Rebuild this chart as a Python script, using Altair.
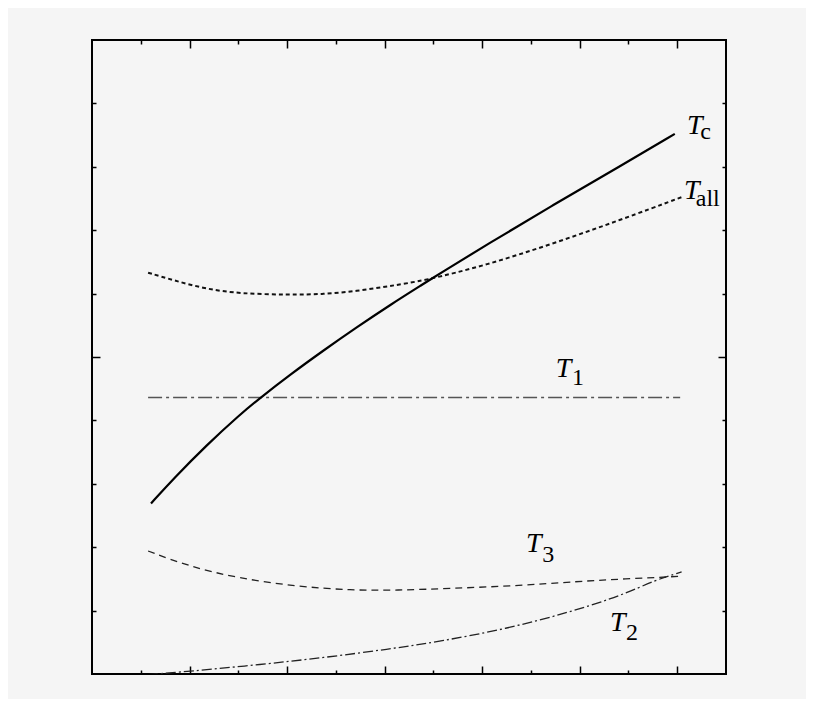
import altair as alt
import pandas as pd

# ---- data ----
tc_x = [1.21, 1.67, 2.35, 3.03, 3.44, 4.06, 4.74, 5.43, 6.11, 6.79, 7.14, 8.09, 9.46, 10.83, 11.95]
tc_y = [2.69, 3.08, 3.61, 4.09, 4.35, 4.72, 5.10, 5.47, 5.82, 6.15, 6.32, 6.77, 7.40, 8.01, 8.52]

tall_x = [1.15, 1.67, 2.35, 3.03, 4.06, 4.74, 5.43, 6.11, 6.79, 8.09, 9.46, 10.83, 12.12]
tall_y = [6.33, 6.21, 6.07, 6.00, 5.98, 5.99, 6.04, 6.12, 6.20, 6.45, 6.79, 7.16, 7.53]

t1_x = [1.15, 12.06]
t1_y = [4.36, 4.36]

t3_x = [1.15, 1.98, 3.00, 4.21, 5.32, 6.25, 7.37, 8.67, 9.97, 10.90, 12.06]
t3_y = [1.94, 1.70, 1.51, 1.38, 1.32, 1.32, 1.35, 1.39, 1.46, 1.50, 1.54]

t2_x = [1.15, 1.98, 3.47, 4.77, 6.07, 7.18, 8.48, 9.78, 10.90, 11.54, 12.09]
t2_y = [-0.01, 0.04, 0.15, 0.26, 0.39, 0.52, 0.71, 0.97, 1.25, 1.48, 1.61]

label_main = ["T", "T", "T", "T", "T"]
label_sub = ["c", "all", "1", "3", "2"]
label_x = [12.20, 12.14, 9.51, 8.90, 10.62]
label_y = [8.52, 7.50, 4.69, 1.93, 0.68]
sub_x = [12.47, 12.38, 9.84, 9.23, 10.95]
sub_y = [8.44, 7.38, 4.56, 1.77, 0.54]

x_ticks = list(range(1, 13))
y_ticks = list(range(1, 10))
X_DOMAIN = [0, 13]
Y_DOMAIN = [0, 10]

SERIF = "Liberation Serif, Times New Roman, serif"

# ---- scales / axes ----
xs = alt.Scale(domain=X_DOMAIN, nice=False, zero=False)
ys = alt.Scale(domain=Y_DOMAIN, nice=False, zero=False)


def axis(orient, values, major_test):
    return alt.Axis(
        orient=orient, values=values, labels=False, domain=False, grid=False, title="",
        tickSize={"expr": "-8"}, tickWidth=1.5, tickColor="black",
        tickDash={"condition": {"test": major_test, "value": [10, 10]}, "value": [4, 20]},
    )


def line(xv, yv, dash, width, color, interp="basis", axes=False):
    df = pd.DataFrame({"x": xv, "y": yv})
    if axes:
        xe = alt.X("x:Q", scale=xs, axis=axis("bottom", x_ticks, "datum.value % 2 == 0"))
        ye = alt.Y("y:Q", scale=ys, axis=axis("left", y_ticks, "datum.value == 5"))
    else:
        xe = alt.X("x:Q", scale=xs, axis=None)
        ye = alt.Y("y:Q", scale=ys, axis=None)
    kw = dict(strokeWidth=width, color=color, clip=True, interpolate=interp)
    if dash:
        kw["strokeDash"] = dash
    return alt.Chart(df).mark_line(**kw).encode(x=xe, y=ye)


tall = line(tall_x, tall_y, [4, 3], 2.0, "#111111")
t1 = line(t1_x, t1_y, [14, 4, 3, 4], 1.5, "#555555", interp="linear")
t3 = line(t3_x, t3_y, [7, 5], 1.3, "#222222")
t2 = line(t2_x, t2_y, [10, 3, 2, 3], 1.3, "#222222")
tc = line(tc_x, tc_y, None, 2.2, "black", axes=True)

lab = pd.DataFrame({"x": label_x, "y": label_y, "t": label_main})
sub = pd.DataFrame({"x": sub_x, "y": sub_y, "t": label_sub})

main_text = alt.Chart(lab).mark_text(
    font=SERIF, fontStyle="italic", fontSize=28, align="left",
    baseline="alphabetic", color="black"
).encode(
    x=alt.X("x:Q", scale=xs, axis=axis("top", x_ticks, "datum.value % 2 == 0")),
    y=alt.Y("y:Q", scale=ys, axis=axis("right", y_ticks, "datum.value == 5")),
    text="t:N",
)
sub_text = alt.Chart(sub).mark_text(
    font=SERIF, fontSize=24, align="left", baseline="alphabetic", color="black"
).encode(
    x=alt.X("x:Q", scale=xs, axis=None),
    y=alt.Y("y:Q", scale=ys, axis=None),
    text="t:N",
)

chart = alt.layer(tall, t1, t3, t2, tc, main_text, sub_text).resolve_axis(
    x="independent", y="independent"
).properties(
    width=634, height=634, autosize="none",
    padding={"left": 84, "top": 32, "right": 80, "bottom": 25},
    background="#f5f5f5",
).configure_view(stroke="black", strokeWidth=2, fill="#f5f5f5")

chart.save("out.html", embed_options={"renderer": "svg", "actions": False})
